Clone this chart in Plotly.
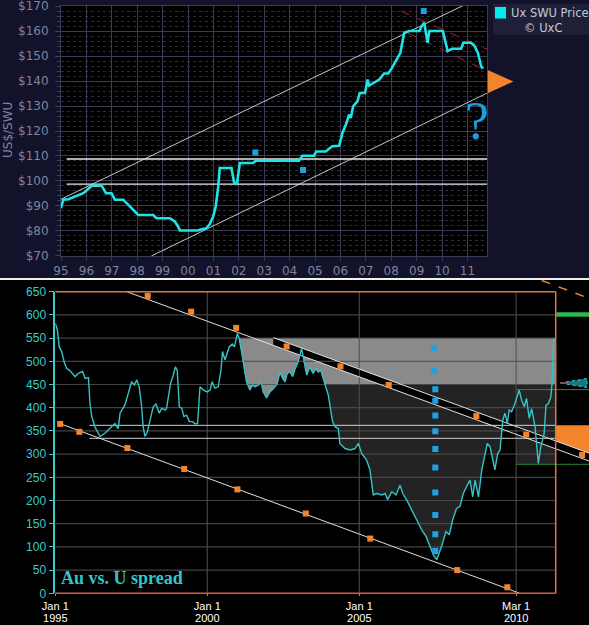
import plotly.graph_objects as go

W, H = 589, 625

# ---------------- TOP PANEL DATA : Ux SWU price ----------------
swu_year = [1995.0, 1995.09, 1995.29, 1995.55, 1995.88, 1996.04, 1996.21, 1996.6, 1996.77, 1996.99,
            1997.12, 1997.45, 1997.65, 1997.84, 1998.04, 1998.63, 1998.76, 1999.29, 1999.48, 1999.61,
            1999.68, 2000.4, 2000.53, 2000.73, 2000.86, 2000.99, 2001.09, 2001.19, 2001.25, 2001.71,
            2001.82, 2001.93, 2002.04, 2002.56, 2002.67, 2004.37, 2004.5, 2004.96, 2005.05, 2005.42,
            2005.55, 2005.68, 2005.95, 2006.08, 2006.24, 2006.34, 2006.41, 2006.5, 2006.67, 2006.76,
            2006.97, 2007.07, 2007.13, 2007.33, 2007.53, 2007.72, 2007.88, 2007.99, 2008.18, 2008.36,
            2008.51, 2008.71, 2009.11, 2009.2, 2009.3, 2009.37, 2009.43, 2009.5, 2010.03, 2010.22,
            2010.39, 2010.75, 2010.84, 2011.14, 2011.28, 2011.41, 2011.54, 2011.61]
swu_price = [89.1, 92.5, 92.7, 93.8, 95.1, 96.5, 98.1, 98.1, 95.1, 95.1,
             92.5, 92.5, 90.5, 88.4, 86.4, 86.4, 85.1, 85.1, 83.8, 81.8,
             80.2, 80.2, 80.7, 81.1, 82.8, 85.8, 89.8, 97.8, 105.2, 105.2,
             99.1, 99.1, 107.2, 107.2, 108.1, 108.1, 110.1, 110.1, 111.8, 111.8,
             112.8, 113.9, 114.1, 119.2, 123.2, 126.6, 125.2, 129.9, 131.9, 135.2,
             135.2, 140.6, 138.2, 139.3, 140.6, 143.0, 143.0, 144.6, 147.9, 151.3,
             159.3, 160.0, 160.0, 162.0, 163.3, 159.3, 155.3, 160.0, 160.0, 152.0,
             152.9, 152.9, 155.3, 155.3, 154.0, 151.3, 145.9, 144.9]

swu_mark_year = [2002.65, 2004.53, 2009.28]
swu_mark_price = [111.4, 104.4, 168.0]

chan_up_year, chan_up_price = [1995.0, 2011.34], [92.7, 172.7]
chan_lo_year, chan_lo_price = [1998.56, 2011.78], [70.0, 135.2]
hline_year = [1995.22, 2011.93]
hline_prices = [108.8, 98.7]
red_up_year, red_up_price = [2008.38, 2011.93], [168.0, 152.0]
red_lo_year, red_lo_price = [2008.64, 2011.64], [159.3, 144.6]

top_years = list(range(1995, 2012))
top_year_labels = ["95", "96", "97", "98", "99", "00", "01", "02", "03", "04",
                   "05", "06", "07", "08", "09", "10", "11"]
price_ticks = list(range(70, 171, 10))
price_labels = ["$" + str(v) for v in price_ticks]
top_x_range = [1995.0, 2011.77]
top_y_range = [69.97, 170.03]

# ---------------- BOTTOM PANEL DATA : Au vs U spread ----------------
spread_year = [1995.0, 1995.07, 1995.13, 1995.21, 1995.29, 1995.37, 1995.48, 1995.65, 1995.76, 1995.9,
               1995.98, 1996.09, 1996.14, 1996.2, 1996.3, 1996.47, 1996.63, 1996.8, 1996.96, 1997.07,
               1997.13, 1997.29, 1997.4, 1997.51, 1997.6, 1997.68, 1997.76, 1997.84, 1997.89, 1997.95,
               1998.03, 1998.11, 1998.22, 1998.31, 1998.42, 1998.5, 1998.61, 1998.66, 1998.72, 1998.79,
               1998.88, 1998.95, 1999.01, 1999.08, 1999.16, 1999.23, 1999.32, 1999.41, 1999.52, 1999.6,
               1999.68, 1999.76, 1999.87, 2000.0, 2000.09, 2000.16, 2000.25, 2000.36, 2000.45, 2000.5,
               2000.58, 2000.72, 2000.82, 2000.89, 2000.99, 2001.05, 2001.13, 2001.24, 2001.29, 2001.4,
               2001.49, 2001.57, 2001.68, 2001.77, 2001.84, 2001.95, 2002.06, 2002.17, 2002.3, 2002.39,
               2002.48, 2002.56, 2002.63, 2002.72, 2002.81, 2002.89, 2002.99, 2003.1, 2003.18, 2003.27,
               2003.37, 2003.48, 2003.57, 2003.65, 2003.73, 2003.84, 2003.98, 2004.12, 2004.2, 2004.31,
               2004.36, 2004.53, 2004.7, 2004.86, 2004.97, 2005.08, 2005.24, 2005.35, 2005.41, 2005.46,
               2005.57, 2005.74, 2005.85, 2005.93, 2006.07, 2006.21, 2006.34, 2006.43, 2006.56, 2006.73,
               2006.89, 2007.06, 2007.2, 2007.33, 2007.44, 2007.55, 2007.63, 2007.74, 2007.85, 2007.96,
               2008.07, 2008.2, 2008.31, 2008.42, 2008.53, 2008.64, 2008.73, 2008.81, 2008.92, 2009.03,
               2009.14, 2009.21, 2009.3, 2009.39, 2009.46, 2009.55, 2009.63, 2009.72, 2009.79, 2009.87,
               2009.93, 2010.01, 2010.12, 2010.26, 2010.34, 2010.43, 2010.5, 2010.59, 2010.67, 2010.78,
               2010.89, 2010.97, 2011.08, 2011.14, 2011.22, 2011.3, 2011.35, 2011.39, 2011.42]
spread_val = [582, 567, 531, 521, 499, 485, 480, 467, 474, 478,
              463, 465, 409, 381, 359, 338, 345, 355, 366, 355,
              388, 406, 431, 456, 449, 460, 445, 402, 359, 338,
              348, 373, 402, 408, 388, 399, 395, 399, 424, 452,
              470, 488, 481, 402, 399, 381, 384, 370, 370, 365,
              366, 445, 438, 434, 438, 456, 442, 445, 481, 521,
              503, 531, 537, 531, 560, 549, 520, 470, 456, 438,
              449, 445, 449, 456, 434, 421, 434, 441, 452, 477,
              463, 456, 474, 477, 467, 484, 499, 528, 499, 470,
              488, 474, 484, 477, 481, 456, 427, 370, 359, 355,
              323, 312, 309, 312, 323, 301, 287, 266, 233, 212,
              215, 212, 215, 202, 219, 212, 233, 215, 201, 179,
              158, 136, 122, 100, 82, 72, 86, 108, 133, 126,
              158, 183, 187, 215, 230, 244, 208, 244, 208, 266,
              301, 323, 316, 291, 266, 301, 309, 373, 388, 366,
              395, 391, 409, 438, 416, 402, 420, 377, 398, 359,
              280, 316, 344, 405, 409, 423, 459, 545, 549]

up_sq_year = [1998.04, 1999.47, 2000.95, 2002.61, 2004.38, 2005.97, 2008.85, 2010.49, 2012.33]
up_sq_val = [641, 607, 572, 532, 489, 449, 382, 342, 298]
lo_sq_year = [1995.16, 1995.79, 1997.37, 1999.24, 2000.99, 2003.24, 2005.36, 2008.22, 2009.87]
lo_sq_val = [365, 348, 313, 268, 224, 172, 118, 50, 13]
blue_sq_year = [2007.45, 2007.45, 2007.5, 2007.5, 2007.5, 2007.5, 2007.5, 2007.5, 2007.5, 2007.5, 2007.5, 2007.5]
blue_sq_val = [528, 479, 440, 415, 383, 349, 311, 271, 217, 169, 127, 91]

trend_a_year, trend_a_val = [1997.35, 2012.56], [650, 285]
trend_b_year, trend_b_val = [2002.17, 2012.56], [551, 302]
trend_c_year, trend_c_val = [1995.2, 2010.28], [364.6, 0]

band_top, band_bottom = 550, 450
support_year = [1996.12, 2011.46]
support_vals = [362, 334]
frame_end = 2011.46
mar_2010 = 2010.16
green_thin_vals = [439, 278]
green_thick_val = 601
orange_zone_top = 362

spread_ticks = list(range(0, 651, 50))
date_tickvals = [1995.0, 2000.0, 2005.0, 2010.16]
date_day_text = ["Jan 1", "Jan 1", "Jan 1", "Mar 1"]
date_year_text = ["1995", "2000", "2005", "2010"]
bot_x_range = [1995.0, 2012.556]
bot_y_range = [0, 650]

# ---------------- helpers ----------------
def lin(xs, ys, t):
    return ys[0] + (ys[1] - ys[0]) * (t - xs[0]) / (xs[1] - xs[0])

def interp(xs, ys, t):
    for i in range(len(xs) - 1):
        if xs[i] <= t <= xs[i + 1]:
            return ys[i] + (ys[i + 1] - ys[i]) * (t - xs[i]) / (xs[i + 1] - xs[i])
    return ys[-1]

def crossing_down(xs, ys, level, after):
    for i in range(len(xs) - 1):
        if xs[i] < after:
            continue
        if ys[i] >= level > ys[i + 1]:
            return xs[i] + (ys[i] - level) * (xs[i + 1] - xs[i]) / (ys[i] - ys[i + 1])
    return after

def px(x):
    return x / W

def py(y):
    return 1 - y / H

NAVY = "#12122b"
GRID_T = "#3a3d57"
TXT_T = "#7f849e"
CYAN_T = "#1fe3e6"
CYAN_B = "#35c3c6"
ORANGE = "#f2842c"
BLUE_SQ = "#1ea2e6"

fig = go.Figure()

# ---------------- top traces ----------------
for hv in hline_prices:
    fig.add_trace(go.Scatter(x=hline_year, y=[hv, hv], mode="lines",
                             line=dict(color="#e8e8e8", width=1.3), xaxis="x", yaxis="y", hoverinfo="skip"))
fig.add_trace(go.Scatter(x=chan_up_year, y=chan_up_price, mode="lines",
                         line=dict(color="#d8d8d8", width=0.9), xaxis="x", yaxis="y"))
fig.add_trace(go.Scatter(x=chan_lo_year, y=chan_lo_price, mode="lines",
                         line=dict(color="#d8d8d8", width=0.9), xaxis="x", yaxis="y"))
for ry, rp in [(red_up_year, red_up_price), (red_lo_year, red_lo_price)]:
    fig.add_trace(go.Scatter(x=ry, y=rp, mode="lines",
                             line=dict(color="#a8242a", width=1, dash="dash"), xaxis="x", yaxis="y"))
fig.add_trace(go.Scatter(x=swu_year, y=swu_price, mode="lines", name="Ux SWU Price",
                         line=dict(color=CYAN_T, width=2.6), xaxis="x", yaxis="y"))
fig.add_trace(go.Scatter(x=swu_mark_year, y=swu_mark_price, mode="markers",
                         marker=dict(symbol="square", size=6, color=BLUE_SQ), xaxis="x", yaxis="y"))

# ---------------- bottom traces ----------------
g0 = crossing_down(spread_year, spread_val, band_top, 2000.9)
xc = crossing_down(spread_year, spread_val, band_bottom, 2003.5)
inner = [(x, v) for x, v in zip(spread_year, spread_val) if g0 < x < xc]
lg_x = [g0, frame_end, frame_end, xc] + [p[0] for p in reversed(inner)] + [g0]
lg_y = [band_top, band_top, band_bottom, band_bottom] + [p[1] for p in reversed(inner)] + [band_top]
fig.add_trace(go.Scatter(x=lg_x, y=lg_y, mode="lines", fill="toself", fillcolor="#8a8a8a",
                         line=dict(width=0, color="#8a8a8a"), xaxis="x2", yaxis="y2"))

inner2 = [(x, v) for x, v in zip(spread_year, spread_val) if xc < x < mar_2010]
v_m = interp(spread_year, spread_val, mar_2010)
dg_x = [xc, frame_end, frame_end, mar_2010, mar_2010] + [p[0] for p in reversed(inner2)] + [xc]
dg_y = [band_bottom, band_bottom, green_thin_vals[1], green_thin_vals[1], v_m] + \
       [p[1] for p in reversed(inner2)] + [band_bottom]
fig.add_trace(go.Scatter(x=dg_x, y=dg_y, mode="lines", fill="toself", fillcolor="#232323",
                         line=dict(width=0, color="#232323"), xaxis="x2", yaxis="y2"))

b0, b1 = trend_b_year[0], trend_b_year[1]
bb_x = [b0, b1, b1, b0, b0]
bb_y = [lin(trend_b_year, trend_b_val, b0), lin(trend_b_year, trend_b_val, b1),
        lin(trend_a_year, trend_a_val, b1), lin(trend_a_year, trend_a_val, b0),
        lin(trend_b_year, trend_b_val, b0)]
fig.add_trace(go.Scatter(x=bb_x, y=bb_y, mode="lines", fill="toself", fillcolor="#000000",
                         line=dict(width=0, color="#000000"), xaxis="x2", yaxis="y2"))

# grid for bottom panel
gx, gy = [], []
for v in spread_ticks[1:-1]:
    gx += [bot_x_range[0], frame_end, None]
    gy += [v, v, None]
for t in date_tickvals[1:]:
    gx += [t, t, None]
    gy += [0, 650, None]
fig.add_trace(go.Scatter(x=gx, y=gy, mode="lines", line=dict(color="rgba(78,78,78,0.85)", width=1.2),
                         xaxis="x2", yaxis="y2"))

for sv in support_vals:
    fig.add_trace(go.Scatter(x=support_year, y=[sv, sv], mode="lines",
                             line=dict(color="#cfcfcf", width=1), xaxis="x2", yaxis="y2"))
for gv in green_thin_vals:
    fig.add_trace(go.Scatter(x=[mar_2010, bot_x_range[1]], y=[gv, gv], mode="lines",
                             line=dict(color="#2c8a30", width=1), xaxis="x2", yaxis="y2"))
fig.add_trace(go.Scatter(x=[frame_end + 0.02, bot_x_range[1]], y=[green_thick_val, green_thick_val],
                         mode="lines", line=dict(color="#2db84a", width=4.5), xaxis="x2", yaxis="y2"))

oz_x = [frame_end, bot_x_range[1], bot_x_range[1], frame_end, frame_end]
oz_y = [orange_zone_top, orange_zone_top, lin(trend_b_year, trend_b_val, bot_x_range[1]),
        lin(trend_b_year, trend_b_val, frame_end), orange_zone_top]
fig.add_trace(go.Scatter(x=oz_x, y=oz_y, mode="lines", fill="toself", fillcolor=ORANGE,
                         line=dict(width=0, color=ORANGE), xaxis="x2", yaxis="y2"))

for ty, tv in [(trend_a_year, trend_a_val), (trend_b_year, trend_b_val), (trend_c_year, trend_c_val)]:
    fig.add_trace(go.Scatter(x=ty, y=tv, mode="lines", line=dict(color="#e0e0e0", width=1),
                             xaxis="x2", yaxis="y2"))

fig.add_trace(go.Scatter(x=spread_year, y=spread_val, mode="lines", name="Au vs. U spread",
                         line=dict(color=CYAN_B, width=1.4), xaxis="x2", yaxis="y2"))
fig.add_trace(go.Scatter(x=up_sq_year + lo_sq_year, y=up_sq_val + lo_sq_val, mode="markers",
                         marker=dict(symbol="square", size=6, color=ORANGE), cliponaxis=False,
                         xaxis="x2", yaxis="y2"))
fig.add_trace(go.Scatter(x=blue_sq_year, y=blue_sq_val, mode="markers",
                         marker=dict(symbol="square", size=6, color=BLUE_SQ), xaxis="x2", yaxis="y2"))
# invisible trace to activate the year-label axis
fig.add_trace(go.Scatter(x=[bot_x_range[0]], y=[0], mode="markers", marker=dict(opacity=0),
                         xaxis="x3", yaxis="y2", hoverinfo="skip"))

# ---------------- shapes (decorations) ----------------
shapes = []
for (x0, y0, x1, y1) in [(0, 0, 61, 278), (487, 0, 589, 278), (61, 0, 487, 6), (61, 256, 487, 278)]:
    shapes.append(dict(type="rect", xref="paper", yref="paper", x0=px(x0), x1=px(x1), y0=py(y1), y1=py(y0),
                       fillcolor=NAVY, line=dict(width=0), layer="below"))
shapes.append(dict(type="line", xref="paper", yref="paper", x0=0, x1=1, y0=py(279), y1=py(279),
                   line=dict(color="#f0f0f0", width=2)))
shapes.append(dict(type="rect", xref="paper", yref="paper", x0=px(493), x1=px(589), y0=py(35), y1=py(4),
                   fillcolor="#1f2038", line=dict(width=0)))
shapes.append(dict(type="rect", xref="paper", yref="paper", x0=px(495), x1=px(506), y0=py(18.5), y1=py(7),
                   fillcolor="#00eef0", line=dict(width=0)))
shapes.append(dict(type="path", xref="paper", yref="paper",
                   path=f"M {px(487.7)} {py(70)} L {px(513.3)} {py(81.5)} L {px(487.7)} {py(93.3)} Z",
                   fillcolor=ORANGE, line=dict(width=0)))
fx0, fx1, fy0, fy1 = px(55.3), px(555.7), py(593.3), py(291.7)
shapes.append(dict(type="line", xref="paper", yref="paper", x0=fx0, x1=fx1, y0=fy1, y1=fy1,
                   line=dict(color="#e07a3a", width=1.5)))
shapes.append(dict(type="line", xref="paper", yref="paper", x0=fx1, x1=fx1, y0=fy0, y1=fy1,
                   line=dict(color="#e07a3a", width=1.5)))
shapes.append(dict(type="line", xref="paper", yref="paper", x0=fx0, x1=fx1, y0=fy0, y1=fy0,
                   line=dict(color="#e0583a", width=1.5)))
shapes.append(dict(type="line", xref="paper", yref="paper", x0=px(541.7), x1=px(589), y0=py(280.5), y1=py(298.3),
                   line=dict(color=ORANGE, width=1.5, dash="dash")))
shapes.append(dict(type="path", xref="paper", yref="paper",
                   path=f"M {px(560)} {py(383)} L {px(587)} {py(378.5)} L {px(587)} {py(387.5)} Z",
                   fillcolor="rgba(40,220,230,0.55)", line=dict(color="#2ad8e0", width=1, dash="dot")))
shapes.append(dict(type="line", xref="paper", yref="paper", x0=px(561), x1=px(565), y0=py(383), y1=py(383),
                   line=dict(color="#d03030", width=2)))

# ---------------- annotations ----------------
ann = [
    dict(x=px(8), y=py(130), xref="paper", yref="paper", text="US$/SWU", showarrow=False, textangle=-90,
         xanchor="center", yanchor="middle",
         font=dict(family="DejaVu Sans", size=12, color=TXT_T)),
    dict(x=px(509), y=py(12.5), xref="paper", yref="paper", text="Ux SWU Price", showarrow=False,
         xanchor="left", yanchor="middle", font=dict(family="DejaVu Sans", size=11.5, color="#c4c8dc")),
    dict(x=px(543), y=py(28.5), xref="paper", yref="paper", text="© UxC", showarrow=False,
         xanchor="center", yanchor="middle", font=dict(family="DejaVu Sans", size=11.5, color="#c4c8dc")),
    dict(x=px(476.5), y=py(121), xref="paper", yref="paper", text="?", showarrow=False,
         xanchor="center", yanchor="middle",
         font=dict(family="Liberation Serif", size=54, color="#1e9be2")),
    dict(x=px(59), y=py(578), xref="paper", yref="paper", text="<b>Au vs. U spread</b>", showarrow=False,
         xanchor="left", yanchor="middle", font=dict(family="Liberation Serif", size=18, color="#2ec8cc")),
]

fig.update_layout(
    width=W, height=H, autosize=False, template="none",
    margin=dict(l=0, r=0, t=0, b=0, pad=0),
    paper_bgcolor="#000000", plot_bgcolor="#000000",
    showlegend=False,
    shapes=shapes, annotations=ann,
    xaxis=dict(domain=[px(61), px(487)], range=top_x_range, anchor="y",
               tickmode="array", tickvals=top_years, ticktext=top_year_labels,
               showgrid=True, gridcolor=GRID_T, gridwidth=1, zeroline=False,
               showline=True, mirror=True, linecolor=GRID_T,
               ticks="outside", ticklen=4, tickcolor=GRID_T, automargin=False,
               ticklabeloverflow="allow",
               tickfont=dict(family="DejaVu Sans", size=12, color=TXT_T)),
    yaxis=dict(domain=[py(256), py(6)], range=top_y_range, anchor="x",
               tickmode="array", tickvals=price_ticks, ticktext=price_labels,
               showgrid=True, gridcolor=GRID_T, gridwidth=1, zeroline=False,
               showline=True, mirror=True, linecolor=GRID_T,
               ticks="outside", ticklen=5, tickcolor=GRID_T, automargin=False, ticklabelstandoff=4,
               ticklabeloverflow="allow",
               minor=dict(tickmode="linear", tick0=70, dtick=2, showgrid=True, gridcolor="#2a2c40",
                          griddash="dot", ticks="outside", ticklen=3, tickcolor=GRID_T),
               tickfont=dict(family="DejaVu Sans", size=12, color=TXT_T)),
    xaxis2=dict(domain=[px(55.3), 1.0], range=bot_x_range, anchor="y2",
                tickmode="array", tickvals=date_tickvals, ticktext=date_day_text,
                showgrid=False, zeroline=False, showline=False,
                ticks="outside", ticklen=2, tickcolor="#e07a3a", automargin=False,
                ticklabeloverflow="allow",
                tickfont=dict(family="Liberation Sans", size=11, color="#ffffff")),
    xaxis3=dict(domain=[px(55.3), 1.0], range=bot_x_range, anchor="y2", overlaying="x2", side="bottom",
                tickmode="array", tickvals=date_tickvals, ticktext=date_year_text,
                showgrid=False, zeroline=False, showline=False,
                ticks="outside", ticklen=14, tickcolor="rgba(0,0,0,0)", automargin=False,
                ticklabeloverflow="allow",
                tickfont=dict(family="Liberation Sans", size=11, color="#ffffff")),
    yaxis2=dict(domain=[py(593.3), py(291.7)], range=bot_y_range, anchor="x2",
                tickmode="array", tickvals=spread_ticks,
                showgrid=False, zeroline=False,
                showline=True, linecolor="#3ccaca", linewidth=1.5,
                ticks="outside", ticklen=5, tickcolor="#3ccaca", automargin=False,
                ticklabeloverflow="allow",
                tickfont=dict(family="Liberation Sans", size=12, color="#3ccaca")),
)

fig.write_html("out.html", config={"displayModeBar": False},
               post_script="document.body.style.margin='0';document.body.style.overflow='hidden';")
